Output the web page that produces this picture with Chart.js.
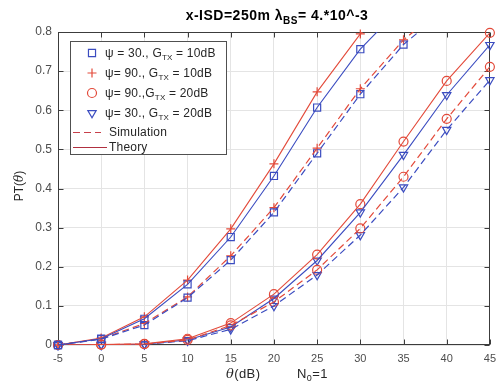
<!DOCTYPE html>
<html>
<head>
<meta charset="utf-8">
<script src="https://cdn.jsdelivr.net/npm/chart.js@4.4.1/dist/chart.umd.min.js"></script>
<style>
  html, body { margin: 0; padding: 0; background: #ffffff; }
  #wrap { width: 503px; height: 387px; position: relative; }
</style>
</head>
<body>
<div id="wrap"><canvas id="c" width="503" height="387"></canvas></div>
<script>
// SINR threshold (dB) and tick positions
const thetaDb = [-5, 0, 5, 10, 15, 20, 25, 30, 35, 40, 45];
const xTicks = [-5, 0, 5, 10, 15, 20, 25, 30, 35, 40, 45];
const yTicks = [0, 0.1, 0.2, 0.3, 0.4, 0.5, 0.6, 0.7, 0.8];

// Coverage probability PT(theta) — theory
const theoryPsi30G10 = [0, 0.016, 0.067, 0.155, 0.276, 0.432, 0.607, 0.756, 0.870, 0.950, 0.985];
const theoryPsi90G10 = [0, 0.018, 0.072, 0.166, 0.297, 0.463, 0.647, 0.795, 0.905, 0.965, 0.990];
const theoryPsi90G20 = [0, 0.001, 0.003, 0.016, 0.056, 0.130, 0.231, 0.360, 0.520, 0.675, 0.798];
const theoryPsi30G20 = [0, 0.001, 0.002, 0.013, 0.046, 0.119, 0.216, 0.339, 0.486, 0.639, 0.767];

// Coverage probability PT(theta) — Monte Carlo simulation
const simPsi30G10 = [0, 0.015, 0.051, 0.121, 0.217, 0.339, 0.490, 0.641, 0.768, 0.860, 0.930];
const simPsi90G10 = [0, 0.016, 0.055, 0.123, 0.228, 0.351, 0.503, 0.655, 0.780, 0.870, 0.940];
const simPsi90G20 = [0, 0.001, 0.002, 0.013, 0.050, 0.110, 0.192, 0.298, 0.430, 0.578, 0.711];
const simPsi30G20 = [0, 0.000, 0.002, 0.011, 0.040, 0.100, 0.179, 0.281, 0.403, 0.550, 0.677];

const BLUE = '#3b4cc0';
const RED = '#e34a3a';
const FONT = 'Arial, "Liberation Sans", Helvetica, sans-serif';
const Y_MAX = 0.8;

const series = [
  { sim: simPsi30G10, th: theoryPsi30G10, color: BLUE, style: 'rect', radius: 5, rot: 0 },
  { sim: simPsi90G10, th: theoryPsi90G10, color: RED, style: 'cross', radius: 4.5, rot: 0 },
  { sim: simPsi90G20, th: theoryPsi90G20, color: RED, style: 'circle', radius: 4.5, rot: 0 },
  { sim: simPsi30G20, th: theoryPsi30G20, color: BLUE, style: 'triangle', radius: 4.8, rot: 180 }
];

const toXY = arr => thetaDb.map((t, i) => ({ x: t, y: arr[i] }));

const datasets = [];
// lines (clipped to the axes)
series.forEach(s => {
  datasets.push({ data: toXY(s.sim), borderColor: s.color, borderWidth: 1.2, borderDash: [7, 4],
                  pointRadius: 0, fill: false, tension: 0 });
  datasets.push({ data: toXY(s.th), borderColor: s.color, borderWidth: 1.1,
                  pointRadius: 0, fill: false, tension: 0 });
});
// markers (allowed to overhang the axes frame, hidden above the top limit)
series.forEach(s => {
  [s.sim, s.th].forEach(arr => {
    datasets.push({
      data: toXY(arr), showLine: false, clip: false,
      pointStyle: s.style, pointRotation: s.rot,
      pointRadius: ctx => (ctx.raw && ctx.raw.y > Y_MAX + 0.005) ? 0 : s.radius,
      pointBorderColor: s.color, pointBackgroundColor: 'rgba(0,0,0,0)', pointBorderWidth: 1.2,
      pointHoverRadius: 0
    });
  });
});

// draw a sequence of text pieces (with subscript offsets) on one baseline
function drawRuns(ctx, runs, x, y, align, spacing) {
  ctx.letterSpacing = (spacing || 0) + 'px';
  let total = 0;
  runs.forEach(r => { ctx.font = r.f; total += ctx.measureText(r.t).width; });
  let cx = align === 'center' ? x - total / 2 : x;
  ctx.textAlign = 'left';
  ctx.textBaseline = 'alphabetic';
  runs.forEach(r => {
    ctx.font = r.f;
    ctx.fillText(r.t, cx, y + (r.dy || 0));
    cx += ctx.measureText(r.t).width;
  });
  ctx.letterSpacing = '0px';
}

const framePlugin = {
  id: 'frame',
  beforeDatasetsDraw(chart) {
    const { ctx, chartArea: a, scales: { x, y } } = chart;
    ctx.save();
    ctx.strokeStyle = '#3c3c3c';
    ctx.lineWidth = 1;
    const L = Math.round(a.left) + 0.5, R = Math.round(a.right) - 0.5;
    const T = Math.round(a.top) + 0.5, B = Math.round(a.bottom) - 0.5;
    ctx.strokeRect(L, T, R - L, B - T);
    const t = 5;
    ctx.beginPath();
    x.ticks.forEach(tk => {
      const px = Math.round(x.getPixelForValue(tk.value)) + 0.5;
      ctx.moveTo(px, B); ctx.lineTo(px, B - t);
      ctx.moveTo(px, T); ctx.lineTo(px, T + t);
    });
    y.ticks.forEach(tk => {
      const py = Math.round(y.getPixelForValue(tk.value)) + 0.5;
      ctx.moveTo(L, py); ctx.lineTo(L + t, py);
      ctx.moveTo(R, py); ctx.lineTo(R - t, py);
    });
    ctx.stroke();
    ctx.restore();
  }
};

const textPlugin = {
  id: 'texts',
  afterDraw(chart) {
    const { ctx } = chart;
    ctx.save();
    ctx.fillStyle = '#000000';
    // title
    drawRuns(ctx, [
      { t: 'x-ISD=250m ', f: 'bold 14px ' + FONT },
      { t: 'λ', f: 'bold 14px ' + FONT },
      { t: 'BS', f: 'bold 10px ' + FONT, dy: 4 },
      { t: '= 4.*10^-3', f: 'bold 14px ' + FONT }
    ], 277, 20, 'center', 0.5);

    ctx.fillStyle = '#262626';
    // x axis label
    drawRuns(ctx, [
      { t: 'θ', f: 'italic 13px "DejaVu Serif", serif' },
      { t: '(dB)', f: '13px ' + FONT }
    ], 226, 378, 'left', 0.4);
    drawRuns(ctx, [
      { t: 'N', f: '13px ' + FONT },
      { t: '0', f: '9px ' + FONT, dy: 3 },
      { t: '=1', f: '13px ' + FONT }
    ], 297, 378, 'left', 0.4);

    // y axis label
    ctx.save();
    ctx.translate(23, 186);
    ctx.rotate(-Math.PI / 2);
    drawRuns(ctx, [
      { t: 'PT(', f: '12px ' + FONT },
      { t: 'θ', f: 'italic 12px "DejaVu Serif", serif' },
      { t: ')', f: '12px ' + FONT }
    ], 0, 0, 'center');
    ctx.restore();

    // legend
    const bx = 70.5, by = 41.5, bw = 156, bh = 113;
    ctx.fillStyle = '#ffffff';
    ctx.fillRect(bx, by, bw, bh);
    ctx.strokeStyle = '#505050';
    ctx.lineWidth = 1;
    ctx.strokeRect(bx, by, bw, bh);

    const rows = [53, 73, 93, 113];
    const labels = [
      ['ψ = 30., G', ' = 10dB'],
      ['ψ= 90., G', ' = 10dB'],
      ['ψ= 90.,G', ' = 20dB'],
      ['ψ= 30., G', ' = 20dB']
    ];
    series.forEach((s, i) => {
      ctx.strokeStyle = s.color;
      ctx.fillStyle = 'rgba(0,0,0,0)';
      ctx.lineWidth = 1.2;
      Chart.helpers.drawPoint(ctx, { pointStyle: s.style, rotation: s.rot, radius: s.radius, borderWidth: 1.2 }, 92, rows[i]);
      ctx.fillStyle = '#262626';
      drawRuns(ctx, [
        { t: labels[i][0], f: '12px ' + FONT },
        { t: 'TX', f: '8px ' + FONT, dy: 3 },
        { t: labels[i][1], f: '12px ' + FONT }
      ], 105, rows[i] + 4, 'left', 0.2);
    });

    ctx.lineWidth = 1.2;
    ctx.strokeStyle = '#c8404a';
    ctx.setLineDash([7, 4]);
    ctx.beginPath(); ctx.moveTo(73, 132.5); ctx.lineTo(101, 132.5); ctx.stroke();
    ctx.setLineDash([]);
    ctx.strokeStyle = '#b03040';
    ctx.beginPath(); ctx.moveTo(73, 147.5); ctx.lineTo(107, 147.5); ctx.stroke();
    ctx.fillStyle = '#262626';
    drawRuns(ctx, [{ t: 'Simulation', f: '12px ' + FONT }], 109, 136, 'left', 0.2);
    drawRuns(ctx, [{ t: 'Theory', f: '12px ' + FONT }], 109, 151, 'left', 0.2);
    ctx.restore();
  }
};

new Chart(document.getElementById('c'), {
  type: 'line',
  data: { datasets },
  options: {
    responsive: false,
    animation: false,
    events: [],
    layout: { padding: { left: 0, right: 7, top: 32, bottom: 0 } },
    plugins: { legend: { display: false }, tooltip: { enabled: false }, title: { display: false } },
    scales: {
      x: {
        type: 'linear', min: -5, max: 45,
        afterBuildTicks: s => { s.ticks = xTicks.map(v => ({ value: v })); },
        afterFit: s => { s.height = 42; },
        grid: { color: '#e4e4e4', drawTicks: false, lineWidth: 1 },
        border: { display: false },
        ticks: { padding: 7, color: '#4d4d4d', font: { family: FONT, size: 11 }, maxRotation: 0,
                 callback: v => String(v) }
      },
      y: {
        type: 'linear', min: 0, max: 0.8,
        afterBuildTicks: s => { s.ticks = yTicks.map(v => ({ value: v })); },
        afterFit: s => { s.width = 58; },
        grid: { color: '#e4e4e4', drawTicks: false, lineWidth: 1 },
        border: { display: false },
        ticks: { padding: 6, color: '#4d4d4d', font: { family: FONT, size: 12 },
                 callback: v => String(Number(v.toFixed(1))) }
      }
    }
  },
  plugins: [framePlugin, textPlugin]
});
</script>
</body>
</html>
